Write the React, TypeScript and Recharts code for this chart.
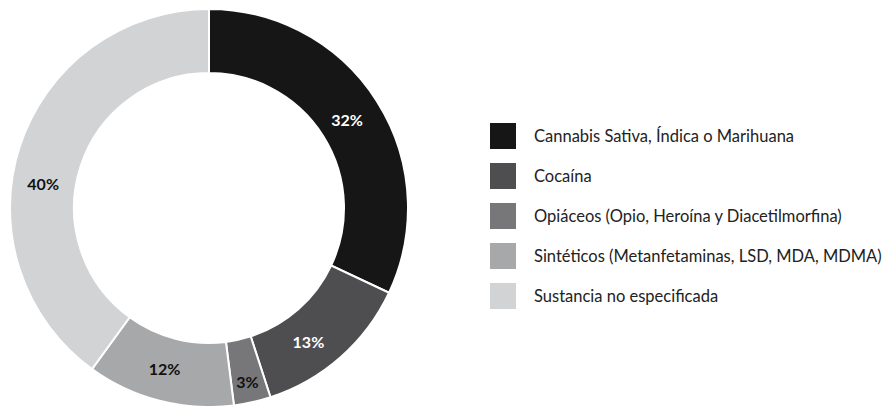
import { PieChart, Pie, Cell, Legend } from "recharts";

const categories = [
  "Cannabis Sativa, Índica o Marihuana",
  "Cocaína",
  "Opiáceos (Opio, Heroína y Diacetilmorfina)",
  "Sintéticos (Metanfetaminas, LSD, MDA, MDMA)",
  "Sustancia no especificada",
];
const values = [32, 13, 3, 12, 40];
const colors = ["#161616", "#4e4e50", "#77777a", "#a7a8aa", "#d2d3d5"];
const labelColors = ["#ffffff", "#ffffff", "#111111", "#111111", "#111111"];
// nudges so the labels sit where the original placed them
const labelNudge = [
  [-3, 1],
  [-11, 8],
  [2, 11],
  [-3, -1],
  [-7, 27],
];

const data = categories.map((name, i) => ({ name, value: values[i] }));

const RADIAN = Math.PI / 180;

function renderLabel(props: any) {
  const { cx, cy, midAngle, innerRadius, outerRadius, index, value } = props;
  const r = (innerRadius + outerRadius) / 2;
  const x = cx + r * Math.cos(-midAngle * RADIAN) + labelNudge[index][0];
  const y = cy + r * Math.sin(-midAngle * RADIAN) + labelNudge[index][1];
  return (
    <text
      x={x}
      y={y}
      fill={labelColors[index]}
      textAnchor="middle"
      dominantBaseline="central"
      fontSize={16}
      fontWeight="bold"
      fontFamily="Lato, sans-serif"
    >
      {value}%
    </text>
  );
}

function LegendList() {
  return (
    <div style={{ fontFamily: "Lato, sans-serif", fontSize: 16.5, color: "#222" }}>
      {data.map((d, i) => (
        <div key={d.name} style={{ display: "flex", alignItems: "center", height: 40 }}>
          <span
            style={{
              width: 26,
              height: 26,
              background: colors[i],
              display: "inline-block",
              marginRight: 18,
              flexShrink: 0,
            }}
          />
          <span style={{ whiteSpace: "nowrap" }}>{d.name}</span>
        </div>
      ))}
    </div>
  );
}

export default function App() {
  return (
    <div style={{ position: "absolute", left: 0, top: 0, width: 882, height: 406, background: "#fff" }}>
      <PieChart width={882} height={406} margin={{ top: 0, right: 0, bottom: 0, left: 0 }}>
        <Pie
          data={data}
          dataKey="value"
          cx={209}
          cy={208}
          innerRadius={135}
          outerRadius={199}
          startAngle={90}
          endAngle={-270}
          stroke="#ffffff"
          strokeWidth={2}
          label={renderLabel}
          labelLine={false}
          isAnimationActive={false}
        >
          {data.map((d, i) => (
            <Cell key={d.name} fill={colors[i]} />
          ))}
        </Pie>
        <Legend
          layout="vertical"
          content={() => <LegendList />}
          wrapperStyle={{ left: 490, top: 116, width: 392 }}
        />
      </PieChart>
    </div>
  );
}
